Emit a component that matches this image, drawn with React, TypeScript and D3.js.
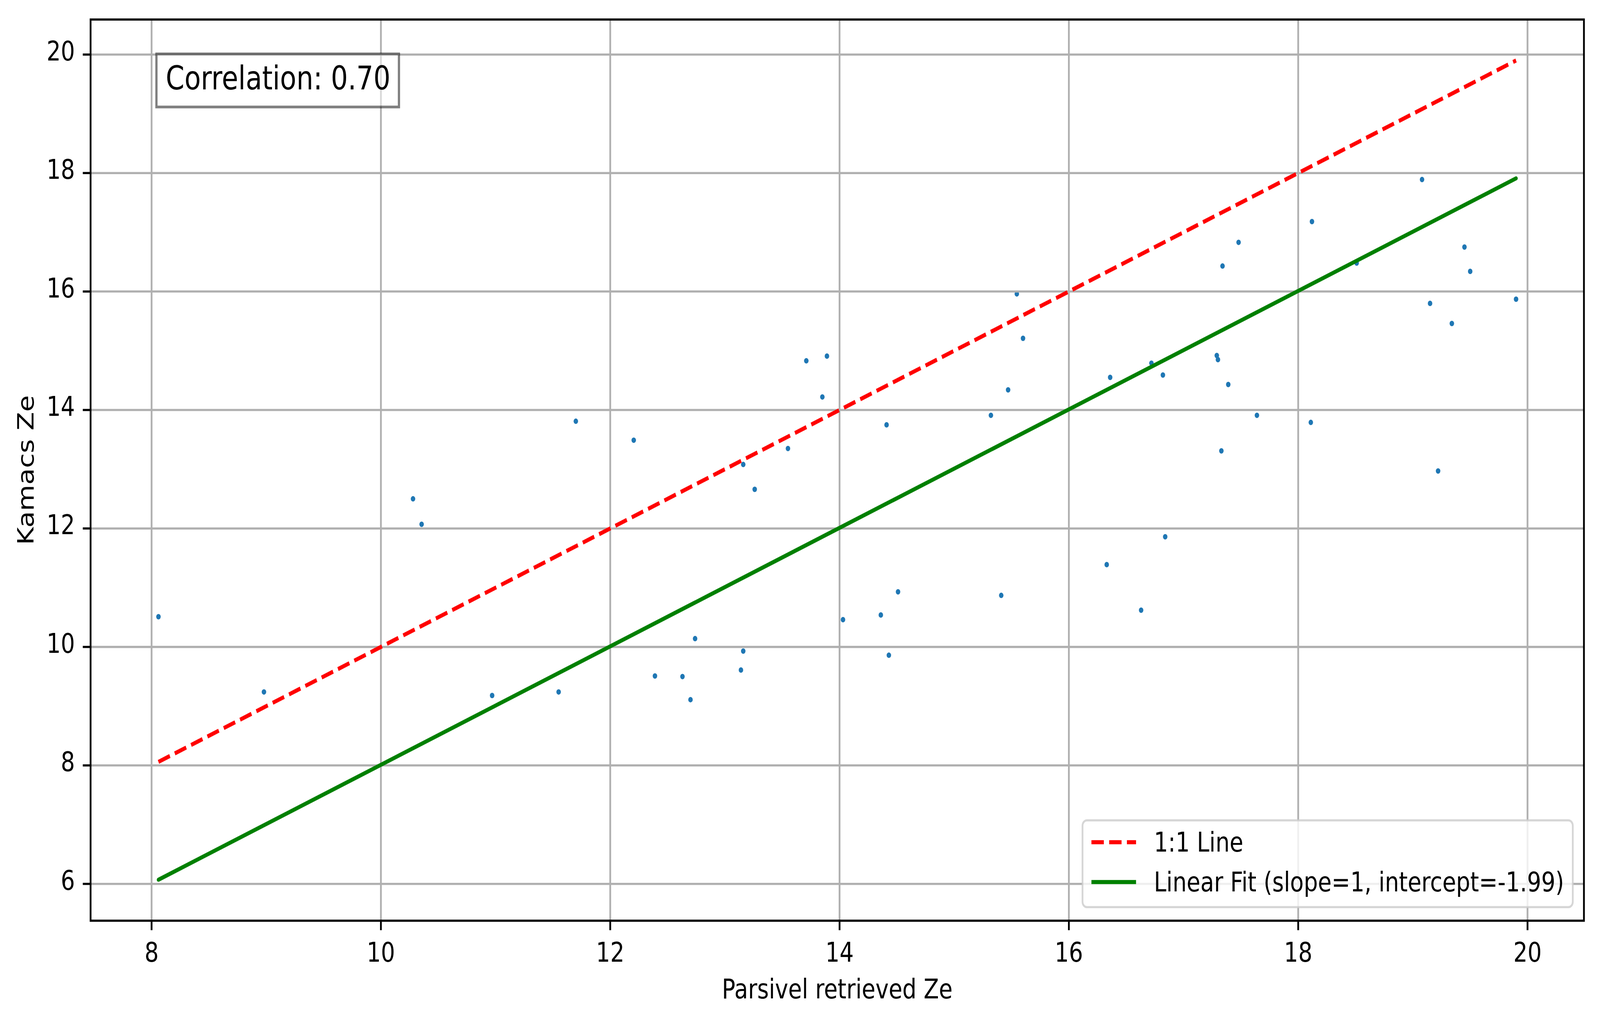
import React from "react";
import * as d3 from "d3";

const xTicks = [8, 10, 12, 14, 16, 18, 20];
const yTicks = [6, 8, 10, 12, 14, 16, 18, 20];

const parsivelZe = [
  8.06, 8.98, 10.28, 10.355, 10.97, 11.55, 11.70,
  12.205, 12.39, 12.63, 12.70, 12.74, 13.14, 13.16, 13.16, 13.26, 13.55, 13.71, 13.85, 13.89,
  14.03, 14.36, 14.41, 14.43, 14.51,
  15.32, 15.41, 15.47, 15.546, 15.60, 16.33, 16.36, 16.63, 16.72, 16.82, 16.84,
  17.29, 17.30, 17.33, 17.34, 17.39, 17.48, 17.64,
  18.11, 18.12, 18.51, 19.08, 19.15, 19.22, 19.34, 19.45, 19.50, 19.90,
];
const kamacsZe = [
  10.51, 9.24, 12.50, 12.07, 9.18, 9.24, 13.81,
  13.49, 9.51, 9.50, 9.11, 10.14, 9.61, 9.93, 13.08, 12.66, 13.35, 14.83, 14.22, 14.91,
  10.46, 10.54, 13.75, 9.86, 10.93,
  13.91, 10.87, 14.34, 15.96, 15.21, 11.39, 14.55, 10.62, 14.79, 14.59, 11.86,
  14.92, 14.85, 13.31, 16.43, 14.43, 16.83, 13.91,
  13.79, 17.18, 16.48, 17.89, 15.80, 12.97, 15.46, 16.75, 16.34, 15.87,
];

const fitSlope = 1;
const fitIntercept = -1.99;
const correlationLabel = "Correlation: 0.70";
const legendLabels = ["1:1 Line", "Linear Fit (slope=1, intercept=-1.99)"];
const xLabel = "Parsivel retrieved Ze";
const yLabel = "Kamacs Ze";

const W = 4981;
const H = 2620;
const L = 282;
const R = 4931;
const T = 50;
const B = 2358;
const PT = 500 / 72;
const FONT = "'DejaVu Sans', sans-serif";

export default function App() {
  const xMin = d3.min(parsivelZe) as number;
  const xMax = d3.max(parsivelZe) as number;
  const lineXs = [xMin, xMax];
  const fitYs = lineXs.map((v) => fitSlope * v + fitIntercept);
  const allY = [...kamacsZe, ...lineXs, ...fitYs];
  const yLo = d3.min(allY) as number;
  const yHi = d3.max(allY) as number;
  const xr = xMax - xMin;
  const yrr = yHi - yLo;
  const x = d3.scaleLinear().domain([xMin - 0.05 * xr, xMax + 0.05 * xr]).range([L, R]);
  const y = d3.scaleLinear().domain([yLo - 0.05 * yrr, yHi + 0.05 * yrr]).range([B, T]);

  const line = d3.line<[number, number]>().x((d) => x(d[0])).y((d) => y(d[1]));
  const oneToOne = line(lineXs.map((v) => [v, v] as [number, number])) || "";
  const fit = line(lineXs.map((v) => [v, fitSlope * v + fitIntercept] as [number, number])) || "";

  const lw = 1.5 * PT;
  const spineW = 0.8 * PT;
  const tickLen = 3.5 * PT;
  const fs = 10 * PT;
  const dash = `${3.7 * lw} ${1.6 * lw}`;

  // legend geometry
  const legRight = R - 0.5 * fs;
  const legBottom = B - 0.5 * fs;
  const legLeft = 3370;
  const legTop = 2101;
  const rowY = [2157, 2259];
  const handleX0 = legLeft + 0.4 * fs;
  const handleX1 = handleX0 + 2 * fs;
  const textX = handleX1 + 0.8 * fs;

  return (
    <svg
      viewBox={`0 0 ${W} ${H}`}
      preserveAspectRatio="none"
      style={{ position: "fixed", left: 0, top: 0, width: "100vw", height: "100vh", background: "white" }}
      fontFamily={FONT}
    >
      <rect x={0} y={0} width={W} height={H} fill="white" />
      <defs>
        <clipPath id="plotclip">
          <rect x={L} y={T} width={R - L} height={B - T} />
        </clipPath>
      </defs>

      {/* scatter */}
      <g clipPath="url(#plotclip)">
        {parsivelZe.map((v, i) => (
          <circle key={i} cx={x(v)} cy={y(kamacsZe[i])} r={7} fill="#1f77b4" />
        ))}
      </g>

      {/* grid */}
      <g clipPath="url(#plotclip)" stroke="#b0b0b0" strokeWidth={spineW}>
        {xTicks.map((t) => (
          <line key={"gx" + t} x1={x(t)} x2={x(t)} y1={T} y2={B} />
        ))}
        {yTicks.map((t) => (
          <line key={"gy" + t} x1={L} x2={R} y1={y(t)} y2={y(t)} />
        ))}
      </g>

      {/* lines */}
      <g clipPath="url(#plotclip)" fill="none">
        <path d={oneToOne} stroke="#ff0000" strokeWidth={lw} strokeDasharray={dash} />
        <path d={fit} stroke="#008000" strokeWidth={lw} strokeLinecap="round" />
      </g>

      {/* spines */}
      <rect
        x={L}
        y={T}
        width={R - L}
        height={B - T}
        fill="none"
        stroke="black"
        strokeWidth={spineW}
        strokeLinejoin="miter"
      />

      {/* x ticks */}
      {xTicks.map((t) => (
        <g key={"xt" + t}>
          <line x1={x(t)} x2={x(t)} y1={B} y2={B + tickLen} stroke="black" strokeWidth={spineW} />
          <text x={x(t)} y={2463} fontSize={fs} textAnchor="middle" fill="black">
            {t}
          </text>
        </g>
      ))}

      {/* y ticks */}
      {yTicks.map((t) => (
        <g key={"yt" + t}>
          <line x1={L - tickLen} x2={L} y1={y(t)} y2={y(t)} stroke="black" strokeWidth={spineW} />
          <text x={L - 2 * tickLen} y={y(t) + 15} fontSize={fs} textAnchor="end" fill="black">
            {t}
          </text>
        </g>
      ))}

      {/* axis labels */}
      <text x={(L + R) / 2} y={2557} fontSize={fs} textAnchor="middle" fill="black">
        {xLabel}
      </text>
      <text
        transform={`translate(104, ${(T + B) / 2}) rotate(-90)`}
        fontSize={fs}
        textAnchor="middle"
        fill="black"
      >
        {yLabel}
      </text>

      {/* correlation box */}
      <rect
        x={487}
        y={138}
        width={755}
        height={136}
        fill="white"
        fillOpacity={0.5}
        stroke="black"
        strokeOpacity={0.5}
        strokeWidth={1 * PT}
      />
      <text x={516} y={229} fontSize={12 * PT} fill="black">
        {correlationLabel}
      </text>

      {/* legend */}
      <rect
        x={legLeft}
        y={legTop}
        width={legRight - legLeft}
        height={legBottom - legTop}
        rx={0.2 * fs}
        ry={0.2 * fs}
        fill="white"
        fillOpacity={0.8}
        stroke="#cccccc"
        strokeOpacity={0.8}
        strokeWidth={spineW}
      />
      <line
        x1={handleX0}
        x2={handleX1}
        y1={rowY[0]}
        y2={rowY[0]}
        stroke="#ff0000"
        strokeWidth={lw}
        strokeDasharray={dash}
      />
      <line x1={handleX0} x2={handleX1} y1={rowY[1]} y2={rowY[1]} stroke="#008000" strokeWidth={lw} />
      <text x={textX} y={2181} fontSize={fs} fill="black">
        {legendLabels[0]}
      </text>
      <text x={textX} y={2283} fontSize={fs} fill="black">
        {legendLabels[1]}
      </text>
    </svg>
  );
}
